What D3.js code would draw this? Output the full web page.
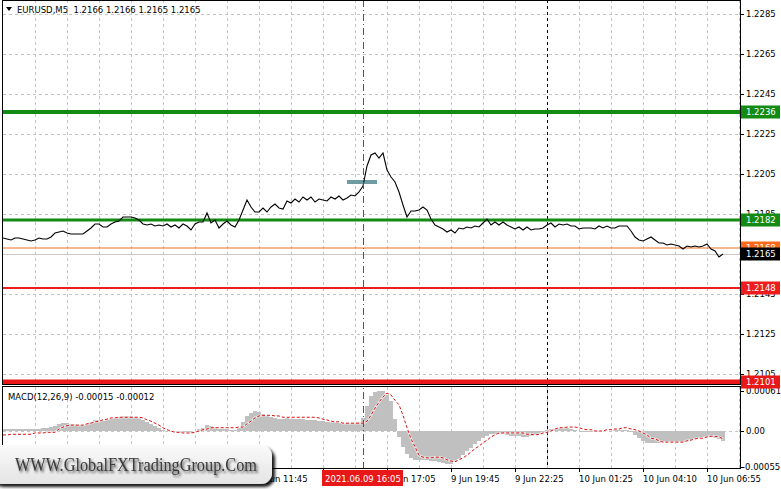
<!DOCTYPE html>
<html><head><meta charset="utf-8">
<script src="https://cdn.jsdelivr.net/npm/d3@7"></script>
<style>body{margin:0;background:#fff;}svg{display:block;}text{font-family:"DejaVu Sans",sans-serif;}</style>
</head><body><svg id="c" width="781" height="489"></svg>
<script>
// ---------- DATA ----------
const symbolTitle = "EURUSD,M5  1.2166 1.2166 1.2165 1.2165";
const macdTitle = "MACD(12,26,9) -0.00015 -0.00012";
const closes = [1.2173,1.21725,1.2172,1.2173,1.2173,1.21725,1.2172,1.21715,1.2172,1.2173,
 1.21725,1.21725,1.21735,1.21755,1.2176,1.21765,1.21755,1.2175,1.2175,1.2175,
 1.2175,1.21765,1.2178,1.218,1.218,1.21785,1.21785,1.218,1.2181,1.21815,
 1.21835,1.21835,1.21835,1.2183,1.2182,1.218,1.21795,1.218,1.2179,1.21795,
 1.2179,1.218,1.21785,1.21795,1.2178,1.218,1.2179,1.2177,1.218,1.2181,
 1.2181,1.21855,1.21805,1.2182,1.2178,1.218,1.21815,1.21795,1.21785,1.2182,
 1.2187,1.2192,1.21885,1.2186,1.2186,1.2188,1.2186,1.21885,1.219,1.2188,
 1.21875,1.21915,1.21905,1.21925,1.2191,1.21935,1.2192,1.21935,1.2191,1.21925,
 1.2192,1.21915,1.21935,1.21925,1.2194,1.2192,1.2193,1.21945,1.2194,1.2196,
 1.2199,1.2209,1.22145,1.22155,1.2213,1.22155,1.2207,1.22035,1.2201,1.2196,
 1.21895,1.21835,1.21865,1.21865,1.2187,1.21885,1.2187,1.21825,1.21795,1.21785,
 1.21775,1.2176,1.2177,1.21755,1.2178,1.21775,1.21785,1.2178,1.2179,1.21785,
 1.21805,1.21825,1.21795,1.2181,1.21795,1.2181,1.21795,1.21785,1.21775,1.21785,
 1.2177,1.21785,1.2177,1.21775,1.21775,1.2178,1.21795,1.21805,1.21785,1.218,
 1.21795,1.218,1.2179,1.2179,1.21775,1.2178,1.2178,1.2178,1.21775,1.2179,
 1.2178,1.2179,1.2178,1.2178,1.2179,1.2179,1.2179,1.21765,1.21735,1.2172,
 1.21715,1.21725,1.21735,1.2172,1.21705,1.21705,1.21695,1.217,1.21695,1.2169,
 1.21675,1.2169,1.21685,1.2169,1.21685,1.2169,1.217,1.21675,1.21665,1.21635,
 1.2165];
const macdHist = [3e-5,3e-5,3e-5,3e-5,3e-5,3e-5,3e-5,3e-5,3e-5,3e-5,
 5e-5,5e-5,6e-5,8e-5,11e-5,12e-5,12e-5,11e-5,11e-5,9e-5,
 9e-5,11e-5,14e-5,17e-5,17e-5,15e-5,17e-5,18e-5,20e-5,21e-5,
 23e-5,23e-5,23e-5,21e-5,20e-5,17e-5,14e-5,11e-5,8e-5,5e-5,
 2e-5,0,-2e-5,-2e-5,-3e-5,-2e-5,-2e-5,-3e-5,0,3e-5,
 5e-5,9e-5,8e-5,6e-5,3e-5,3e-5,3e-5,2e-5,2e-5,5e-5,
 14e-5,23e-5,27e-5,31e-5,29e-5,26e-5,23e-5,21e-5,20e-5,18e-5,
 18e-5,20e-5,18e-5,18e-5,18e-5,18e-5,17e-5,17e-5,17e-5,15e-5,
 15e-5,14e-5,14e-5,14e-5,12e-5,12e-5,12e-5,12e-5,12e-5,14e-5,
 20e-5,38e-5,53e-5,59e-5,61e-5,61e-5,58e-5,46e-5,18e-5,-9e-5,
 -24e-5,-35e-5,-41e-5,-44e-5,-44e-5,-44e-5,-44e-5,-46e-5,-46e-5,-47e-5,
 -49e-5,-50e-5,-50e-5,-47e-5,-43e-5,-37e-5,-31e-5,-26e-5,-20e-5,-15e-5,
 -11e-5,-8e-5,-5e-5,-5e-5,-5e-5,-5e-5,-6e-5,-8e-5,-8e-5,-8e-5,
 -9e-5,-9e-5,-8e-5,-6e-5,-5e-5,-2e-5,2e-5,3e-5,3e-5,5e-5,
 5e-5,5e-5,3e-5,2e-5,0,-2e-5,-2e-5,-2e-5,-2e-5,-2e-5,
 0,0,0,2e-5,2e-5,2e-5,2e-5,-2e-5,-6e-5,-11e-5,
 -15e-5,-18e-5,-18e-5,-18e-5,-18e-5,-17e-5,-17e-5,-17e-5,-17e-5,-17e-5,
 -17e-5,-15e-5,-14e-5,-12e-5,-11e-5,-9e-5,-9e-5,-9e-5,-11e-5,-12e-5,
 -15e-5];
const macdSignal = [-6e-5,-6e-5,-5e-5,-5e-5,-5e-5,-5e-5,-5e-5,-5e-5,-3e-5,-3e-5,
 -3e-5,-2e-5,-2e-5,-2e-5,3e-5,6e-5,8e-5,9e-5,9e-5,9e-5,
 9e-5,11e-5,12e-5,14e-5,15e-5,17e-5,18e-5,20e-5,20e-5,21e-5,
 21e-5,21e-5,21e-5,21e-5,21e-5,20e-5,17e-5,15e-5,12e-5,9e-5,
 5e-5,2e-5,0,-2e-5,-2e-5,-3e-5,-3e-5,-3e-5,-2e-5,0,
 2e-5,3e-5,5e-5,5e-5,5e-5,5e-5,5e-5,5e-5,5e-5,6e-5,
 6e-5,11e-5,15e-5,20e-5,23e-5,24e-5,24e-5,24e-5,23e-5,23e-5,
 21e-5,21e-5,21e-5,21e-5,21e-5,21e-5,21e-5,21e-5,21e-5,20e-5,
 18e-5,17e-5,15e-5,14e-5,14e-5,12e-5,12e-5,12e-5,12e-5,12e-5,
 12e-5,15e-5,24e-5,35e-5,44e-5,52e-5,58e-5,55e-5,47e-5,40e-5,
 24e-5,5e-5,-12e-5,-24e-5,-37e-5,-40e-5,-41e-5,-41e-5,-40e-5,-40e-5,
 -41e-5,-44e-5,-46e-5,-47e-5,-44e-5,-41e-5,-37e-5,-32e-5,-27e-5,-23e-5,
 -18e-5,-14e-5,-9e-5,-6e-5,-3e-5,-3e-5,-3e-5,-3e-5,-3e-5,-3e-5,
 -3e-5,-5e-5,-5e-5,-6e-5,-5e-5,-3e-5,-2e-5,0,3e-5,5e-5,
 5e-5,6e-5,6e-5,6e-5,5e-5,3e-5,2e-5,2e-5,0,0,
 0,2e-5,2e-5,3e-5,3e-5,5e-5,5e-5,3e-5,2e-5,0,
 -3e-5,-6e-5,-11e-5,-12e-5,-15e-5,-17e-5,-17e-5,-17e-5,-17e-5,-17e-5,
 -17e-5,-15e-5,-14e-5,-12e-5,-11e-5,-11e-5,-9e-5,-8e-5,-8e-5,-9e-5,
 -12e-5];
const priceTicks = [1.2285,1.2265,1.2245,1.2225,1.2205,1.2185,1.2165,1.2145,1.2125,1.2105];
const macdTicks = [0.00061, 0.00, -0.00055];
const macdTickLabels = ["0.00061","0.00","-0.00055"];
const timeLabels = ["9 Jun 01:05","9 Jun 03:45","9 Jun 06:25","9 Jun 09:05","9 Jun 11:45","9 Jun 14:25",
 "9 Jun 17:05","9 Jun 19:45","9 Jun 22:25","10 Jun 01:25","10 Jun 04:10","10 Jun 06:55"];
const levelPrices = [1.2236, 1.2182, 1.2168, 1.2148, 1.2101];
const bidPrice = 1.2165;
const orderPrice = 1.2201;
const orderBars = [86, 93.5];
const cursorBar = 90;
const cursorLabel = "2021.06.09 16:05";
const daySeparatorBar = 136;
const watermark = "WWW.GlobalFXTradingGroup.Com";

// ---------- LAYOUT / STYLE ----------
const svg = d3.select("#c");
const L = 3, R = 740, mainTop = 0, mainBot = 384, mTop = 387, mBot = 468;
const barsPerGrid = 8, barsPerLabel = 16;
const x = d3.scaleLinear().domain([0, closes.length - 1]).range([3, 723]);
const y = d3.scaleLinear().domain([1.2100, 1.22905]).range([mainBot, 3]);
const ym = d3.scaleLinear().domain([-0.000565, 0.000672]).range([mBot, mTop]);
const levelStyle = [
  {c:"#138a13", w:4, box:"#138a13"},
  {c:"#138a13", w:3, box:"#138a13"},
  {c:"#e8731f", w:1, box:"#ff6a1a"},
  {c:"#ee1c1c", w:2, box:"#ee1c1c"},
  {c:"#e81818", w:5, box:"#e81818"}];
const FS = 8.5;

const defs = svg.append("defs");
defs.append("clipPath").attr("id","cm").append("rect").attr("x",L).attr("y",mainTop).attr("width",R-L).attr("height",mainBot-mainTop);
defs.append("clipPath").attr("id","cd").append("rect").attr("x",L).attr("y",mTop).attr("width",R-L).attr("height",mBot-mTop);
const f1 = defs.append("filter").attr("id","boxsh").attr("x","-10%").attr("y","-40%").attr("width","130%").attr("height","190%");
f1.append("feDropShadow").attr("dx",3).attr("dy",3).attr("stdDeviation",1.6).attr("flood-color","#000").attr("flood-opacity",0.9);
const f2 = defs.append("filter").attr("id","txtsh").attr("x","-5%").attr("y","-40%").attr("width","115%").attr("height","190%");
f2.append("feDropShadow").attr("dx",1.5).attr("dy",2).attr("stdDeviation",1.3).attr("flood-color","#222").attr("flood-opacity",0.75);
const gr = defs.append("linearGradient").attr("id","wg").attr("x1",0).attr("y1",0).attr("x2",0).attr("y2",1);
gr.append("stop").attr("offset",0).attr("stop-color","#fafafa");
gr.append("stop").attr("offset",1).attr("stop-color","#e4e4e4");

svg.append("rect").attr("width",781).attr("height",489).attr("fill","#fff");

// grids
const gridIdx = d3.range(barsPerGrid, closes.length + 4, barsPerGrid);
const gridG = svg.append("g").attr("stroke","#c4c4c4").attr("stroke-dasharray","3,3").attr("shape-rendering","crispEdges");
gridG.selectAll(".vg").data(gridIdx).join("line")
  .attr("x1",d=>Math.round(x(d))+0.5).attr("x2",d=>Math.round(x(d))+0.5).attr("y1",mainTop).attr("y2",mainBot);
gridG.selectAll(".vg2").data(gridIdx).join("line")
  .attr("x1",d=>Math.round(x(d))+0.5).attr("x2",d=>Math.round(x(d))+0.5).attr("y1",mTop).attr("y2",mBot);
gridG.selectAll(".hg").data(priceTicks).join("line")
  .attr("x1",L).attr("x2",R).attr("y1",d=>Math.round(y(d))+0.5).attr("y2",d=>Math.round(y(d))+0.5);
gridG.append("line").attr("x1",L).attr("x2",R).attr("y1",Math.round(ym(0))+0.5).attr("y2",Math.round(ym(0))+0.5);

// day separator
svg.selectAll(".sep").data([daySeparatorBar]).join("line")
  .attr("x1",d=>Math.round(x(d))+0.5).attr("x2",d=>Math.round(x(d))+0.5).attr("y1",mainTop).attr("y2",mBot)
  .attr("stroke","#000").attr("stroke-dasharray","3,3").attr("shape-rendering","crispEdges");

// main panel content
const gm = svg.append("g").attr("clip-path","url(#cm)");
gm.append("line").attr("x1",L).attr("x2",R).attr("y1",Math.round(y(bidPrice))+0.5).attr("y2",Math.round(y(bidPrice))+0.5)
  .attr("stroke","#c8c8c8").attr("shape-rendering","crispEdges");
gm.selectAll(".lvl").data(levelPrices).join("line")
  .attr("x1",L).attr("x2",R).attr("y1",d=>y(d)).attr("y2",d=>y(d))
  .attr("stroke",(d,i)=>levelStyle[i].c).attr("stroke-width",(d,i)=>levelStyle[i].w);
gm.append("line").attr("x1",x(orderBars[0])).attr("x2",x(orderBars[1])).attr("y1",y(orderPrice)).attr("y2",y(orderPrice))
  .attr("stroke","#6e9ca2").attr("stroke-width",4);
gm.append("path").datum(closes)
  .attr("d", d3.line().x((d,i)=>x(i)).y(d=>y(d)))
  .attr("fill","none").attr("stroke","#000").attr("stroke-width",1.1);

// MACD panel
const gd = svg.append("g").attr("clip-path","url(#cd)");
const bw = x(1) - x(0);
gd.selectAll(".h").data(macdHist).join("rect")
  .attr("x",(d,i)=>x(i)-bw/2).attr("width",bw)
  .attr("y",d=>Math.min(ym(d),ym(0))).attr("height",d=>Math.abs(ym(d)-ym(0)))
  .attr("fill","#c0c0c0").attr("shape-rendering","crispEdges");
const sl = d3.line().x((d,i)=>x(i)).y(d=>ym(d));
gd.append("path").datum(macdSignal).attr("d",sl).attr("fill","none").attr("stroke","#fff").attr("stroke-width",2.5).attr("stroke-opacity",0.55);
gd.append("path").datum(macdSignal).attr("d",sl).attr("fill","none").attr("stroke","#e01010").attr("stroke-width",1).attr("stroke-dasharray","3,2");

// cursor line
svg.append("line").attr("x1",Math.round(x(cursorBar))+0.5).attr("x2",Math.round(x(cursorBar))+0.5).attr("y1",mainTop).attr("y2",mBot)
  .attr("stroke","#f0102e").attr("stroke-dasharray","7,3,1,3").attr("shape-rendering","crispEdges");

// frames
const fr = svg.append("g").attr("fill","none").attr("stroke","#000").attr("shape-rendering","crispEdges");
fr.append("rect").attr("x",2.5).attr("y",0.5).attr("width",R-2.5).attr("height",mainBot);
fr.append("rect").attr("x",2.5).attr("y",mTop-0.5).attr("width",R-2.5).attr("height",mBot-mTop+0.5);

// right price axis (the label hidden behind the bid box is not drawn)
const ax = svg.append("g");
ax.selectAll(".pt").data(priceTicks).join("line")
  .attr("x1",R).attr("x2",R+4).attr("y1",d=>Math.round(y(d))+0.5).attr("y2",d=>Math.round(y(d))+0.5)
  .attr("stroke","#000").attr("shape-rendering","crispEdges");
ax.selectAll(".ptl").data(priceTicks.filter(d=>d!==bidPrice)).join("text")
  .attr("x",R+6).attr("y",d=>y(d)).attr("dy","0.35em").attr("font-size",FS).attr("fill","#000")
  .text(d=>d3.format(".4f")(d));
const lb = svg.append("g");
const boxData = levelPrices.map((p,i)=>({p, fill:levelStyle[i].box}));
boxData.splice(3,0,{p:bidPrice, fill:"#000"});
lb.selectAll("g").data(boxData).join("g").each(function(d){
  const g = d3.select(this);
  g.append("rect").attr("x",R+1).attr("y",y(d.p)-6.5).attr("width",39).attr("height",13).attr("fill",d.fill);
  g.append("text").attr("x",R+6).attr("y",y(d.p)).attr("dy","0.35em").attr("font-size",FS).attr("fill","#fff").text(d3.format(".4f")(d.p));
});
ax.selectAll(".mt").data(macdTicks).join("line")
  .attr("x1",R).attr("x2",R+4).attr("y1",d=>Math.round(ym(d))+0.5).attr("y2",d=>Math.round(ym(d))+0.5)
  .attr("stroke","#000").attr("shape-rendering","crispEdges");
ax.selectAll(".mtl").data(macdTicks).join("text")
  .attr("x",d=>d<0?R+2:R+6).attr("y",d=>ym(d)).attr("dy","0.35em").attr("font-size",FS).attr("fill","#000")
  .text((d,i)=>macdTickLabels[i]);

// time axis (the label fully covered by the cursor box is not drawn)
const tg = svg.append("g");
const tIdx = timeLabels.map((d,i)=>i);
tg.selectAll("line").data(tIdx).join("line")
  .attr("x1",i=>Math.round(x(i*barsPerLabel))+0.5).attr("x2",i=>Math.round(x(i*barsPerLabel))+0.5)
  .attr("y1",mBot).attr("y2",mBot+4).attr("stroke","#000").attr("shape-rendering","crispEdges");
tg.selectAll("text").data(tIdx.filter(i=>!(i*barsPerLabel < cursorBar && i*barsPerLabel > cursorBar - barsPerLabel))).join("text")
  .attr("x",i=>x(i*barsPerLabel)).attr("y",482).attr("font-size",FS).attr("fill","#000").text(i=>timeLabels[i]);
svg.append("rect").attr("x",x(cursorBar)-41).attr("y",470).attr("width",81).attr("height",16).attr("fill","#e81818");
svg.append("text").attr("x",x(cursorBar)).attr("y",482).attr("text-anchor","middle").attr("font-size",FS).attr("fill","#fff").text(cursorLabel);

// titles
svg.append("path").attr("d","M6,7 L12,7 L9,11 Z").attr("fill","#000");
svg.append("text").attr("x",17).attr("y",13).attr("font-size",FS).attr("fill","#000").attr("xml:space","preserve").text(symbolTitle);
svg.append("text").attr("x",8).attr("y",400).attr("font-size",FS).attr("fill","#000").text(macdTitle);

// watermark
const wm = svg.append("g");
wm.append("rect").attr("x",-10).attr("y",445).attr("width",282).attr("height",39).attr("rx",11)
  .attr("fill","url(#wg)").attr("filter","url(#boxsh)");
wm.append("text").attr("x",15).attr("y",471)
  .style("font-family","'Liberation Serif','DejaVu Serif',serif")
  .attr("font-size",19).attr("fill","#3a3a3a").attr("textLength",242).attr("lengthAdjust","spacingAndGlyphs")
  .attr("filter","url(#txtsh)").text(watermark);
</script></body></html>
